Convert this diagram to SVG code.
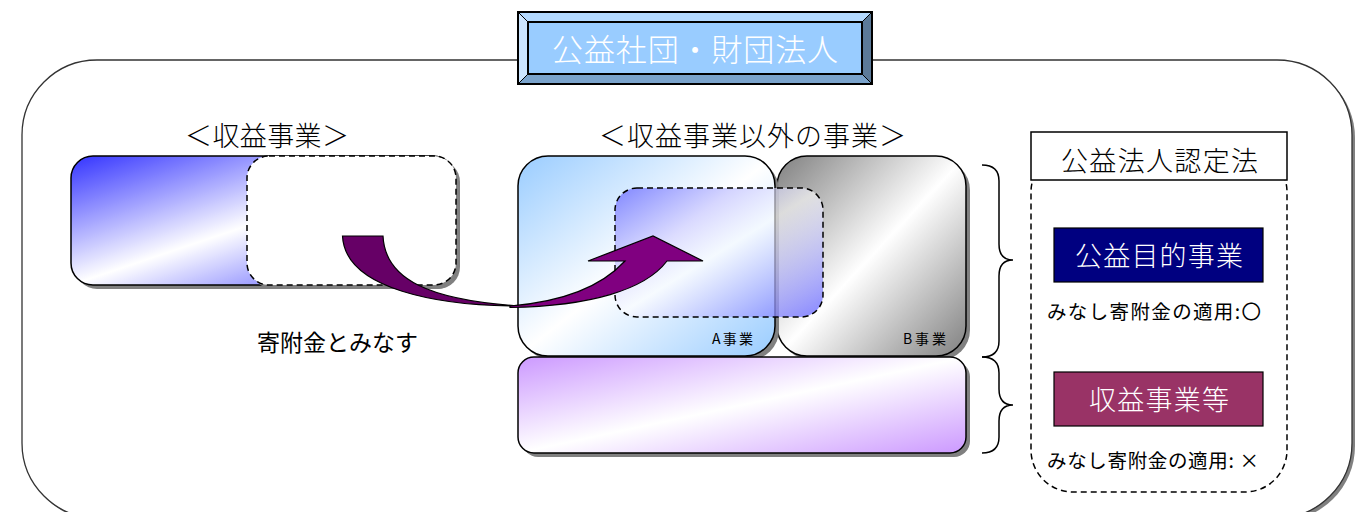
<svg xmlns="http://www.w3.org/2000/svg" width="1369" height="512" viewBox="0 0 1369 512">
<style>
  text { font-family: "Noto Sans CJK JP", "Noto Sans", sans-serif; font-weight: 300; }
  text.reg { font-weight: 400; }
  .shadow { fill: #808080; }
  .solid { stroke: #000; stroke-width: 1.5; }
  .dash { stroke: #000; stroke-width: 1.5; stroke-dasharray: 6 4; }
  .lbl { fill: #000; }
  .wht { fill: #fff; }
</style>
<defs>
  <linearGradient id="gBlue" x1="0" y1="0" x2="1" y2="1">
    <stop offset="0" stop-color="#3333FF"/>
    <stop offset="0.5" stop-color="#FFFFFF"/>
    <stop offset="1" stop-color="#3333FF"/>
  </linearGradient>
  <linearGradient id="gLight" x1="0" y1="0" x2="1" y2="1">
    <stop offset="0" stop-color="#99CCFF"/>
    <stop offset="0.5" stop-color="#FFFFFF"/>
    <stop offset="1" stop-color="#99CCFF"/>
  </linearGradient>
  <linearGradient id="gGray" x1="0" y1="0" x2="1" y2="1">
    <stop offset="0" stop-color="#808080"/>
    <stop offset="0.5" stop-color="#FFFFFF"/>
    <stop offset="1" stop-color="#808080"/>
  </linearGradient>
  <linearGradient id="gPurple" x1="0" y1="0" x2="1" y2="1">
    <stop offset="0" stop-color="#CC99FF"/>
    <stop offset="0.5" stop-color="#FFFFFF"/>
    <stop offset="1" stop-color="#CC99FF"/>
  </linearGradient>
  <linearGradient id="gOverlay" x1="0" y1="0" x2="1" y2="1">
    <stop offset="0" stop-color="#6666FF" stop-opacity="0.75"/>
    <stop offset="0.5" stop-color="#FFFFFF" stop-opacity="0.6"/>
    <stop offset="1" stop-color="#6666FF" stop-opacity="0.8"/>
  </linearGradient>
</defs>

<rect width="1369" height="512" fill="#fff"/>

<g id="frame">
  <rect x="25" y="63" width="1330" height="458" rx="75" class="shadow"/>
  <rect x="22" y="60" width="1330" height="458" rx="75" fill="#fff" stroke="#333" stroke-width="1.3"/>
</g>

<g id="title">
  <rect x="518" y="12" width="354" height="72" fill="#99CCFF"/>
  <polygon points="518,12 872,12 862,22 528,22" fill="#B3D9FF"/>
  <polygon points="518,12 528,22 528,74 518,84" fill="#CCE5FF"/>
  <polygon points="872,12 872,84 862,74 862,22" fill="#5C7A99"/>
  <polygon points="518,84 528,74 862,74 872,84" fill="#7AA3CC"/>
  <rect x="518" y="12" width="354" height="72" fill="none" stroke="#000" stroke-width="2"/>
  <rect x="528" y="22" width="334" height="52" fill="none" stroke="#000" stroke-width="2"/>
  <line x1="518" y1="12" x2="528" y2="22" stroke="#000" stroke-width="1"/>
  <line x1="872" y1="12" x2="862" y2="22" stroke="#000" stroke-width="1"/>
  <line x1="518" y1="84" x2="528" y2="74" stroke="#000" stroke-width="1"/>
  <line x1="872" y1="84" x2="862" y2="74" stroke="#000" stroke-width="1"/>
  <text x="552" y="61" font-size="31" class="wht" textLength="286">公益社団・財団法人</text>
</g>

<g id="label-shueki">
  <text x="185" y="146" font-size="27" class="lbl" textLength="164">＜収益事業＞</text>
</g>
<g id="label-igai">
  <text x="599" y="146" font-size="27" class="lbl" textLength="307">＜収益事業以外の事業＞</text>
</g>

<g id="left-box">
  <rect x="75" y="160" width="384" height="129" rx="22" class="shadow"/>
  <rect x="71" y="156" width="384" height="129" rx="22" fill="url(#gBlue)" class="solid"/>
</g>
<g id="left-dashed">
  <rect x="251" y="160" width="209" height="129" rx="22" class="shadow"/>
  <rect x="247" y="156" width="209" height="129" rx="22" fill="#fff" class="dash"/>
</g>

<g id="b-box">
  <rect x="781" y="160" width="189" height="200" rx="30" class="shadow"/>
  <rect x="777" y="156" width="189" height="200" rx="30" fill="url(#gGray)" class="solid"/>
  <text x="903" y="344" font-size="14" class="lbl reg" textLength="43">B事業</text>
</g>
<g id="a-box">
  <rect x="522" y="160" width="257" height="200" rx="30" class="shadow"/>
  <rect x="518" y="156" width="257" height="200" rx="30" fill="url(#gLight)" class="solid"/>
  <text x="712" y="344" font-size="14" class="lbl reg" textLength="41">A事業</text>
</g>
<g id="purple-box">
  <rect x="522" y="361" width="448" height="96" rx="16" class="shadow"/>
  <rect x="518" y="357" width="448" height="96" rx="16" fill="url(#gPurple)" class="solid"/>
</g>
<g id="overlay">
  <rect x="615" y="188" width="208" height="129" rx="22" fill="url(#gOverlay)" class="dash"/>
</g>

<g id="connectors">
  <path d="M342.5,236 L383,236 C385,280 430,300 520,306 C440,306 345,290 342.5,236 Z" fill="#660066" stroke="#000" stroke-width="1.2"/>
  <path d="M510,307.5 C590,306 645,290 667,261 L703,261 L653,236 L588,261 L625,261 C600,288 560,302 510,306 Z" fill="#800080" stroke="#000" stroke-width="1.2"/>
  <path d="M982,165 Q999,165 999,181 L999,244 Q999,260 1013,260 Q999,260 999,276 L999,341 Q999,357 982,357" fill="none" stroke="#000" stroke-width="1.5"/>
  <path d="M982,357 Q999,357 999,373 L999,389 Q999,405 1013,405 Q999,405 999,421 L999,437 Q999,453 982,453" fill="none" stroke="#000" stroke-width="1.5"/>
</g>

<g id="label-kifu">
  <text x="257" y="351" font-size="23" class="lbl reg" textLength="161">寄附金とみなす</text>
</g>

<g id="nintei">
  <rect x="1031" y="150" width="256" height="342" rx="42" fill="none" class="dash"/>
  <rect x="1031" y="132" width="256" height="48" fill="#fff" class="solid"/>
  <text x="1061" y="171" font-size="27" class="lbl" textLength="197">公益法人認定法</text>
</g>
<g id="koeki">
  <rect x="1054" y="228" width="209" height="54" fill="#000080" stroke="#000" stroke-width="1.2"/>
  <text x="1075" y="266" font-size="27" class="wht" textLength="168">公益目的事業</text>
  <text x="1047" y="319" font-size="19.5" class="lbl reg" textLength="214">みなし寄附金の適用:〇</text>
</g>
<g id="shueki-to">
  <rect x="1054" y="372" width="209" height="54" fill="#993366" stroke="#000" stroke-width="1.2"/>
  <text x="1089" y="410" font-size="27" class="wht" textLength="140">収益事業等</text>
  <text x="1047" y="468" font-size="19.5" class="lbl reg" textLength="212">みなし寄附金の適用: ×</text>
</g>
</svg>
